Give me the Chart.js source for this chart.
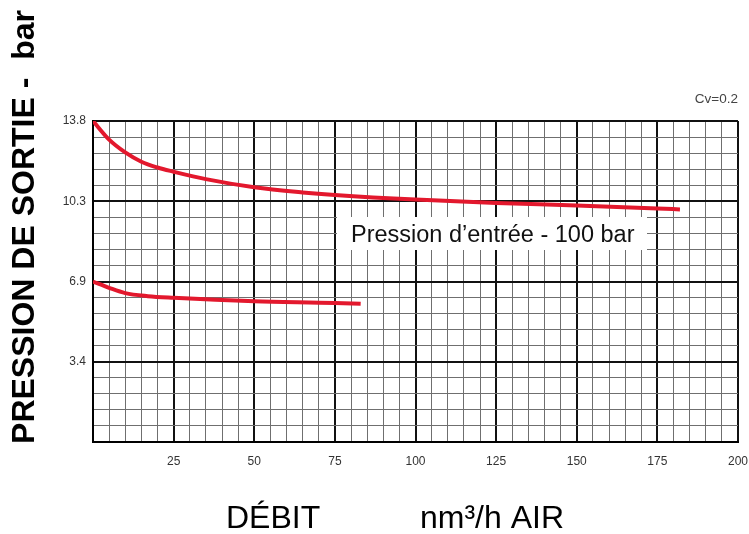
<!DOCTYPE html>
<html>
<head>
<meta charset="utf-8">
<script src="https://cdn.jsdelivr.net/npm/chart.js@4.4.1/dist/chart.umd.min.js"></script>
<style>
  html, body { margin: 0; padding: 0; background: #fff; }
  canvas { display: block; }
</style>
</head>
<body>
<canvas id="myChart" width="749" height="534"></canvas>
<script>
// débit (nm3/h) et pression de sortie (bar)
const debitHaut = [0, 5, 10, 15, 20, 25, 35, 50, 65, 75, 100, 125, 150, 175, 182];
const pressionHaut = [13.8, 13.0, 12.45, 12.05, 11.8, 11.62, 11.3, 10.95, 10.73, 10.62, 10.42, 10.28, 10.17, 10.04, 10.0];
const debitBas = [0, 5, 10, 17, 25, 50, 75, 83];
const pressionBas = [6.9, 6.63, 6.4, 6.27, 6.2, 6.05, 5.98, 5.94];

const xTickLabels = ['25', '50', '75', '100', '125', '150', '175', '200'];
const yTickLabels = ['3.4', '6.9', '10.3', '13.8'];
const yMax = 13.8;

const red = '#e3182d';

const toPoints = (xs, ys) => xs.map((x, i) => ({ x: x, y: ys[i] }));

const textPlugin = {
  id: 'texts',
  beforeDatasetsDraw(chart) {
    // cartouche blanc sous l'étiquette
    const c = chart.ctx;
    c.save();
    c.fillStyle = '#fff';
    c.fillRect(337, 217, 310, 33);
    c.restore();
  },
  afterDraw(chart) {
    const c = chart.ctx;
    c.save();
    c.fillStyle = '#111';
    c.font = '23.5px "Liberation Sans", Arial, sans-serif';
    c.textAlign = 'left';
    c.textBaseline = 'alphabetic';
    c.fillText('Pression d\u2019entrée - 100 bar', 351, 242);

    c.fillStyle = '#444';
    c.font = '13.5px "Liberation Sans", Arial, sans-serif';
    c.textAlign = 'right';
    c.textBaseline = 'middle';
    c.fillText('Cv=0.2', 738, 99);

    c.fillStyle = '#000';
    c.font = '32px "Liberation Sans", Arial, sans-serif';
    c.textAlign = 'left';
    c.textBaseline = 'alphabetic';
    c.fillText('DÉBIT', 226, 528);
    c.fillText('nm³/h AIR', 420, 528);

    c.translate(34, 227);
    c.rotate(-Math.PI / 2);
    c.font = 'bold 32px "Liberation Sans", Arial, sans-serif';
    c.textAlign = 'center';
    c.fillText('PRESSION DE SORTIE -  bar', 0, 0);
    c.restore();
  }
};

const ctx = document.getElementById('myChart').getContext('2d');
const myChart = new Chart(ctx, {
  type: 'scatter',
  data: {
    datasets: [{
      data: toPoints(debitHaut, pressionHaut),
      showLine: true,
      borderColor: red,
      borderWidth: 4,
      pointRadius: 0,
      tension: 0.4,
      cubicInterpolationMode: 'monotone'
    }, {
      data: toPoints(debitBas, pressionBas),
      showLine: true,
      borderColor: red,
      borderWidth: 4,
      pointRadius: 0,
      tension: 0.4,
      cubicInterpolationMode: 'monotone'
    }]
  },
  options: {
    responsive: false,
    animation: false,
    layout: { padding: { left: 0, top: 121, right: 11, bottom: 0 } },
    plugins: { legend: { display: false }, tooltip: { enabled: false } },
    scales: {
      x: {
        type: 'linear',
        min: 0,
        max: 200,
        afterFit(scale) {
          scale.height = 92;
          scale.paddingLeft = 0;
          scale.paddingRight = 0;
        },
        border: { color: '#000', width: 2 },
        grid: {
          drawTicks: false,
          color: (c) => (c.tick && c.tick.value % 25 === 0) ? '#111' : '#6f6f6f',
          lineWidth: (c) => (c.tick && c.tick.value % 25 === 0) ? 2 : 1
        },
        ticks: {
          stepSize: 5,
          autoSkip: false,
          maxRotation: 0,
          padding: 12,
          color: '#333',
          font: { size: 12, family: '"Liberation Sans", Arial, sans-serif' },
          callback: (v) => (v % 25 === 0 && v > 0) ? xTickLabels[v / 25 - 1] : ''
        }
      },
      y: {
        type: 'linear',
        min: 0,
        max: yMax,
        afterFit(scale) {
          scale.width = 93;
          scale.paddingTop = 0;
          scale.paddingBottom = 0;
        },
        afterBuildTicks(scale) {
          const t = [];
          for (let i = 0; i <= 20; i++) t.push({ value: yMax * i / 20 });
          scale.ticks = t;
        },
        border: { color: '#000', width: 2 },
        grid: {
          drawTicks: false,
          color: (c) => (c.index % 5 === 0) ? '#111' : '#6f6f6f',
          lineWidth: (c) => (c.index % 5 === 0) ? 2 : 1
        },
        ticks: {
          autoSkip: false,
          padding: 7,
          color: '#333',
          font: { size: 12, family: '"Liberation Sans", Arial, sans-serif' },
          callback: (v, i) => (i % 5 === 0 && i > 0) ? yTickLabels[i / 5 - 1] : ''
        }
      }
    }
  },
  plugins: [textPlugin]
});
</script>
</body>
</html>
